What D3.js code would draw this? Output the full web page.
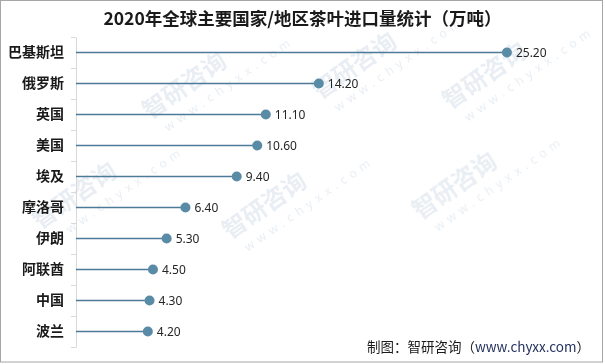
<!DOCTYPE html>
<html>
<head>
<meta charset="utf-8">
<script src="https://cdn.jsdelivr.net/npm/d3@7"></script>
<style>
  body { margin: 0; background: #fff; }
  svg { display: block; }
</style>
</head>
<body>
<div id="chart"></div>
<script>
const countries = ["巴基斯坦", "俄罗斯", "英国", "美国", "埃及", "摩洛哥", "伊朗", "阿联酋", "中国", "波兰"];
const imports = [25.2, 14.2, 11.1, 10.6, 9.4, 6.4, 5.3, 4.5, 4.3, 4.2];
const xDomain = [0, 30];

const width = 605, height = 364;
const margin = { top: 37, right: 16, bottom: 17, left: 76 };

const svg = d3.select("#chart")
  .append("svg")
  .attr("width", width)
  .attr("height", height);

// watermark
const marks = [[150, 120], [320, 100], [450, 110], [40, 230], [230, 240], [420, 220]];
const wm = svg.append("g").attr("fill", "#d3dde8").attr("opacity", 0.5);
marks.forEach(m => {
  const g = wm.append("g").attr("transform", "translate(" + m[0] + "," + m[1] + ") rotate(-35)");
  g.append("text")
    .attr("font-family", "Noto Sans CJK SC")
    .attr("font-size", 24)
    .attr("font-weight", "bold")
    .text("智研咨询");
  g.append("text")
    .attr("y", 20)
    .attr("x", 8)
    .attr("font-family", "Noto Sans")
    .attr("font-size", 12)
    .attr("letter-spacing", 5)
    .text("www.chyxx.com");
});

const x = d3.scaleLinear()
  .domain(xDomain)
  .range([margin.left, width - margin.right]);

const y = d3.scaleBand()
  .domain(countries)
  .range([margin.top, height - margin.bottom]);

// axis
const yAxis = d3.axisLeft(y).tickSize(0).tickPadding(12);
const ag = svg.append("g")
  .attr("transform", "translate(" + margin.left + ",0)")
  .call(yAxis);
ag.select(".domain").attr("stroke", "#d9d9d9");
ag.selectAll("text")
  .attr("font-family", "Noto Sans CJK SC")
  .attr("font-size", 14)
  .attr("font-weight", "bold")
  .attr("fill", "#1a1a1a");

// band boundary ticks
const bounds = countries.map(c => y(c)).concat([y.range()[1]]);
svg.append("g")
  .selectAll("line")
  .data(bounds)
  .join("line")
  .attr("x1", margin.left - 5)
  .attr("x2", margin.left)
  .attr("y1", d => d + 0.5)
  .attr("y2", d => d + 0.5)
  .attr("stroke", "#d9d9d9");

const rows = countries.map((c, i) => ({ name: c, value: imports[i] }));

svg.append("g")
  .selectAll("line")
  .data(rows)
  .join("line")
  .attr("x1", x(0))
  .attr("x2", d => x(d.value))
  .attr("y1", d => y(d.name) + y.bandwidth() / 2)
  .attr("y2", d => y(d.name) + y.bandwidth() / 2)
  .attr("stroke", "#4d7a98")
  .attr("stroke-width", 1.3);

svg.append("g")
  .selectAll("circle")
  .data(rows)
  .join("circle")
  .attr("cx", d => x(d.value))
  .attr("cy", d => y(d.name) + y.bandwidth() / 2)
  .attr("r", 5)
  .attr("fill", "#5a8ba6");

svg.append("g")
  .selectAll("text")
  .data(rows)
  .join("text")
  .attr("x", d => x(d.value) + 9)
  .attr("y", d => y(d.name) + y.bandwidth() / 2)
  .attr("dy", "0.35em")
  .attr("font-family", "Noto Sans")
  .attr("font-size", 12)
  .attr("fill", "#262626")
  .text(d => d.value.toFixed(2));

// title
svg.append("text")
  .attr("x", width / 2)
  .attr("y", 25)
  .attr("text-anchor", "middle")
  .attr("font-family", "Noto Sans CJK SC")
  .attr("font-size", 17.5)
  .attr("font-weight", "bold")
  .attr("fill", "#1a1a1a")
  .text("2020年全球主要国家/地区茶叶进口量统计（万吨）");

// source
const src = svg.append("text")
  .attr("x", 590)
  .attr("y", 352)
  .attr("text-anchor", "end")
  .attr("font-family", "Noto Sans CJK SC")
  .attr("font-size", 13.5)
  .attr("fill", "#1a1a1a");
src.append("tspan").text("制图：智研咨询（");
src.append("tspan").attr("fill", "#1f2d5a").text("www.chyxx.com");
src.append("tspan").text("）");

// border
svg.append("rect")
  .attr("x", 0.5).attr("y", 0.5)
  .attr("width", width - 3).attr("height", height - 2.5)
  .attr("fill", "none")
  .attr("stroke", "#a6a6a6");
</script>
</body>
</html>
